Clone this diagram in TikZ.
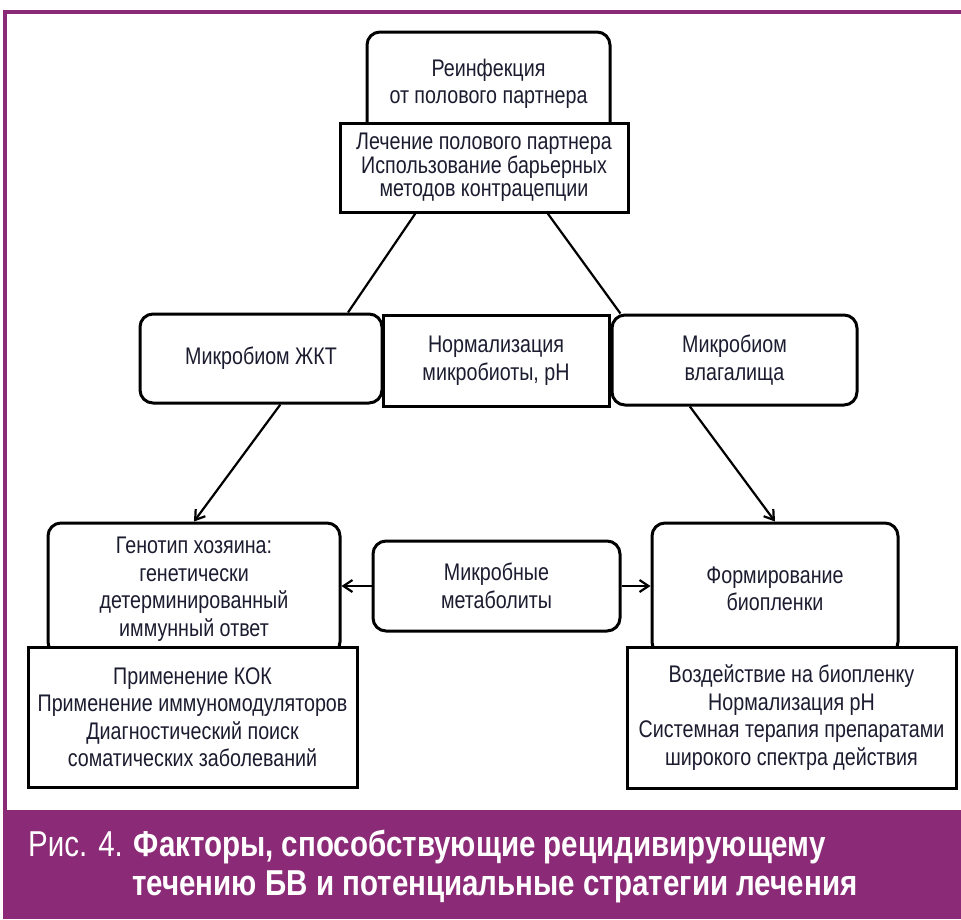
\documentclass[tikz,border=0pt]{standalone}
\usepackage{fontspec}
\setmainfont{Liberation Sans}[FakeStretch=0.82]
\usepackage{tikz}
\usetikzlibrary{calc}
\usetikzlibrary{arrows.meta}

\definecolor{capviolet}{RGB}{139,42,118}
\definecolor{boxink}{RGB}{28,28,48}

\begin{document}
\begin{tikzpicture}[x=1pt, y=-1pt,
    every node/.style={font=\fontsize{24}{27.5}\selectfont, text=boxink, align=center, inner sep=0pt},
    roundbox/.style={draw=black, line width=3pt, rounded corners=13pt, fill=white},
    squarebox/.style={draw=black, line width=3pt, fill=white},
    link/.style={line width=2.2pt},
    arr/.style={line width=2.2pt, -{Straight Barb[length=9pt, width=12pt, line width=2.2pt]}}]
    \useasboundingbox (0,0) rectangle (961,919);
    \fill[white] (0,0) rectangle (961,919);
    % frame and caption band
    \draw[capviolet, line width=4pt] (5,919) -- (5,12) -- (961,12);
    \fill[capviolet] (3,810) rectangle (961,919);
    \node[text=white, anchor=west, font=\fontsize{36}{40}\selectfont] (cap1) at (28,847)
        {Рис. 4. \textbf{Факторы, способствующие рецидивирующему}};
    \node[text=white, anchor=west, font=\fontsize{36}{40}\bfseries\selectfont] (cap2) at (132,887)
        {течению БВ и потенциальные стратегии лечения};

    % top
    \node[roundbox, minimum width=243pt, minimum height=104pt] (reinf) at (488.5,84)
        {Реинфекция\\от полового партнера};
    \node[squarebox, minimum width=288pt, minimum height=89pt] (partner) at (484,167.5)
        {Лечение полового партнера\\[-4pt]Использование барьерных\\[-4pt]методов контрацепции};

    % middle row
    \node[roundbox, minimum width=242pt, minimum height=89pt] (gut) at (261,358.5) {Микробиом ЖКТ};
    \node[squarebox, minimum width=226pt, minimum height=91pt] (norm) at (496,360.5)
        {Нормализация\\микробиоты, pH};
    \node[roundbox, minimum width=245pt, minimum height=90pt] (vag) at (734.5,360)
        {Микробиом\\влагалища};

    % bottom row
    \node[roundbox, minimum width=292pt, minimum height=132pt] (host) at (194,589)
        {Генотип хозяина:\\генетически\\детерминированный\\иммунный ответ};
    \node[roundbox, minimum width=247pt, minimum height=90pt] (metab) at (496.5,586)
        {Микробные\\метаболиты};
    \node[roundbox, minimum width=246pt, minimum height=132pt] (biofilm) at (775,589)
        {Формирование\\биопленки};
    \node[squarebox, minimum width=329pt, minimum height=140pt] (hostcare) at (192.5,717)
        {Применение КОК\\Применение иммуномодуляторов\\Диагностический поиск\\соматических заболеваний};
    \node[squarebox, minimum width=329pt, minimum height=141pt] (filmcare) at (791.5,717.5)
        {Воздействие на биопленку\\Нормализация pH\\Системная терапия препаратами\\широкого спектра действия};

    % connectors
    \draw[link] ($(partner.south west)!0.264!(partner.south east)$) -- ($(gut.north west)!0.855!(gut.north east)$);
    \draw[link] ($(partner.south west)!0.719!(partner.south east)$) -- ($(vag.north west)!0.04!(vag.north east)$);
    \draw[arr] ($(gut.south west)!0.579!(gut.south east)$) -- (host.north);
    \draw[arr] ($(vag.south west)!0.32!(vag.south east)$) -- (biofilm.north);
    \draw[arr] (metab.west) -- (metab.west -| host.east);
    \draw[arr] (metab.east) -- (metab.east -| biofilm.west);
\end{tikzpicture}
\end{document}
